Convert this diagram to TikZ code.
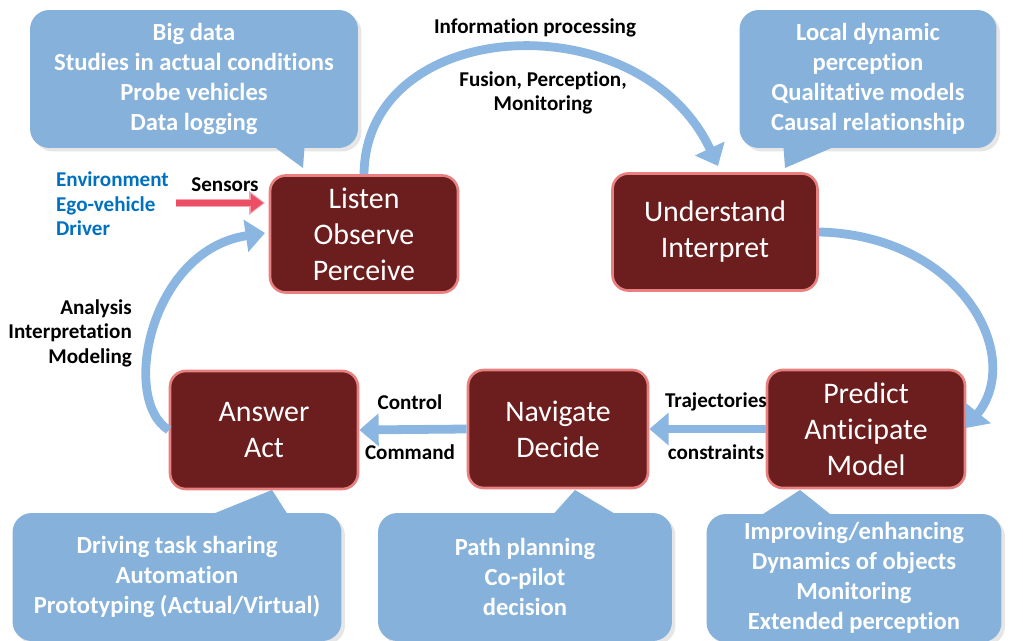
\documentclass[tikz,border=0pt]{standalone}
\usepackage{fontspec}
\setmainfont{Carlito}[Ligatures=NoCommon]
\usetikzlibrary{arrows.meta,shadows}

\definecolor{boxred}{RGB}{108,29,29}
\definecolor{boxrim}{RGB}{232,128,128}
\definecolor{calloutblue}{RGB}{133,177,218}
\definecolor{flowblue}{RGB}{140,182,226}
\definecolor{srcblue}{RGB}{0,112,192}
\definecolor{sensorred}{RGB}{236,78,102}
\definecolor{sensorrim}{RGB}{245,165,175}

\tikzset{
  stage/.style={draw=boxrim, line width=1.5pt, fill=boxred, rounded corners=9pt,
    text=white, font=\fontsize{17}{20.5}\selectfont, align=center},
  bubble/.style={fill=calloutblue, rounded corners=11pt, text=white,
    font=\bfseries\fontsize{14}{17}\selectfont, align=center,
    drop shadow={shadow xshift=2pt, shadow yshift=-2pt, opacity=0.2}},
  tail/.style={fill=calloutblue},
  lbl/.style={font=\bfseries\fontsize{12}{14}\selectfont, align=center},
  flow/.style={draw=flowblue, line width=5pt, -{Triangle[length=11pt,width=18pt]}},
}

\begin{document}
\begin{tikzpicture}[x=0.02cm,y=-0.02cm]
    \useasboundingbox (0,0) rectangle (1023,641);

    % Callouts
    \node[bubble, minimum width=6.56cm, minimum height=2.76cm] (datanote) at (194,79)
        {Big data\\Studies in actual conditions\\Probe vehicles\\Data logging};
    \node[bubble, minimum width=5.14cm, minimum height=2.76cm] (causenote) at (868,79)
        {Local dynamic\\perception\\Qualitative models\\Causal relationship};
    \node[bubble, minimum width=6.58cm, minimum height=2.56cm] (sharenote) at (177,577)
        {Driving task sharing\\Automation\\Prototyping (Actual/Virtual)};
    \node[bubble, minimum width=5.88cm, minimum height=2.56cm] (pathnote) at (525,577)
        {Path planning\\Co-pilot\\decision};
    \node[bubble, minimum width=5.9cm, minimum height=2.56cm] (objnote) at (854,578)
        {Improving/enhancing\\Dynamics of objects\\Monitoring\\Extended perception};

    % Callout tails
    \fill[tail] (265,140) -- (305,140) -- (303,168) -- cycle;
    \fill[tail] (783,140) -- (850,140) -- (785,168) -- cycle;
    \fill[tail] (203,518) -- (290,518) -- (272,490) -- cycle;
    \fill[tail] (550,518) -- (622,518) -- (575,490) -- cycle;
    \fill[tail] (757,518) -- (835,518) -- (800,490) -- cycle;

    % Stages of the loop
    \node[stage, minimum width=3.76cm, minimum height=2.34cm] (listen) at (364,234) {Listen\\Observe\\Perceive};
    \node[stage, minimum width=4.1cm, minimum height=2.34cm] (understand) at (715,232) {Understand\\Interpret};
    \node[stage, minimum width=3.96cm, minimum height=2.36cm] (predict) at (866,429) {Predict\\Anticipate\\Model};
    \node[stage, minimum width=3.6cm, minimum height=2.36cm] (navigate) at (558,429) {Navigate\\Decide};
    \node[stage, minimum width=3.76cm, minimum height=2.36cm] (answer) at (264,430) {Answer\\Act};

    % Loop arrows
    \coordinate (understandin) at (718,166);
    \coordinate (predictin) at (966,428);
    \coordinate (listenin) at (265,233);
    \draw[flow] (listen.north) .. controls (366,15) and (640,0) .. (understandin);
    \draw[flow] (understand.east) .. controls (960,235) and (1025,355) .. (predictin);
    \draw[flow] (predict.west) -- (navigate.east);
    \draw[flow] (navigate.west) -- (answer.east);
    \draw[flow] (answer.west) .. controls (120,400) and (150,250) .. (listenin);

    % Sensor input
    \coordinate (sensorsrc) at (176,203);
    \coordinate (sensordst) at (265,203);
    \draw[draw=sensorrim, line width=5pt, -{Triangle[length=9pt,width=13pt]}] (sensorsrc) -- (sensordst);
    \draw[draw=sensorred, line width=3.5pt, -{Triangle[length=7pt,width=10pt]}] (sensorsrc) -- ([xshift=-1pt]sensordst);

    % Labels
    \node[lbl] (infolbl) at (535,28) {Information processing};
    \node[lbl] (fusionlbl) at (543,93) {Fusion, Perception,\\Monitoring};
    \node[lbl] (sensorlbl) at (225,185) {Sensors};
    \node[lbl, align=left, text=srcblue, anchor=west] (srclbl) at (50,204) {Environment\\Ego-vehicle\\Driver};
    \node[lbl, align=right, anchor=east] (analysislbl) at (138,333) {Analysis\\Interpretation\\Modeling};
    \node[lbl] (controllbl) at (410,402) {Control};
    \node[lbl] (commandlbl) at (410,452) {Command};
    \node[lbl] (trajlbl) at (716,402) {Trajectories};
    \node[lbl] (constrlbl) at (716,452) {constraints};
\end{tikzpicture}
\end{document}
